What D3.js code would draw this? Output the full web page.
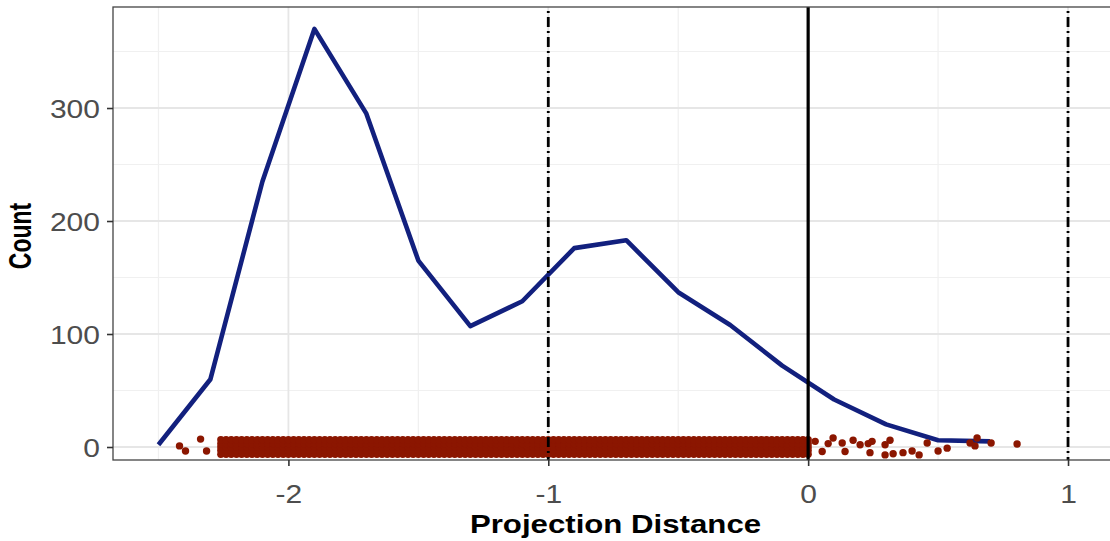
<!DOCTYPE html>
<html><head><meta charset="utf-8">
<script src="https://cdn.jsdelivr.net/npm/d3@7"></script>
<style>html,body{margin:0;padding:0;background:#fff;}svg{display:block;}</style>
</head><body><div id="chart"></div>
<script>
// ---- data ----
const polyX = [-2.5,-2.3,-2.1,-1.9,-1.7,-1.5,-1.3,-1.1,-0.9,-0.7,-0.5,-0.3,-0.1,0.1,0.3,0.5,0.7];
const polyCount = [2,60,235,370,295,165,107,129,176,183,137,108,72,42,20,6,5];
const xTicks = [-2,-1,0,1];
const yTicks = [0,100,200,300];
const vlineSolid = [0];
const vlineDotdash = [-1,1];
// dense jittered band of projection distances (x) drawn at several jitter rows (y)
const denseX = [-2.26,-2.24,-2.22,-2.20,-2.18,-2.16,-2.14,-2.12,-2.10,-2.08,-2.06,-2.04,-2.02,-2.00,-1.98,-1.96,-1.94,-1.92,-1.90,-1.88,-1.86,-1.84,-1.82,-1.80,-1.78,-1.76,-1.74,-1.72,-1.70,-1.68,-1.66,-1.64,-1.62,-1.60,-1.58,-1.56,-1.54,-1.52,-1.50,-1.48,-1.46,-1.44,-1.42,-1.40,-1.38,-1.36,-1.34,-1.32,-1.30,-1.28,-1.26,-1.24,-1.22,-1.20,-1.18,-1.16,-1.14,-1.12,-1.10,-1.08,-1.06,-1.04,-1.02,-1.00,-0.98,-0.96,-0.94,-0.92,-0.90,-0.88,-0.86,-0.84,-0.82,-0.80,-0.78,-0.76,-0.74,-0.72,-0.70,-0.68,-0.66,-0.64,-0.62,-0.60,-0.58,-0.56,-0.54,-0.52,-0.50,-0.48,-0.46,-0.44,-0.42,-0.40,-0.38,-0.36,-0.34,-0.32,-0.30,-0.28,-0.26,-0.24,-0.22,-0.20,-0.18,-0.16,-0.14,-0.12,-0.10,-0.08,-0.06,-0.04,-0.02,0.00];
const denseRows = [-6.5,-3,0,3,6.5];
// sparse (tail) jittered points
const sparseX = [-2.419,-2.396,-2.338,-2.315,0.027,0.054,0.077,0.096,0.131,0.142,0.173,0.200,0.231,0.246,0.238,0.296,0.315,0.296,0.327,0.365,0.400,0.427,0.458,0.500,0.535,0.623,0.650,0.642,0.704,0.804];
const sparseY = [1,-3.5,7,-3.5,5,-4,3,8,3.5,-4,6,2,3,5,-5,2,6,-7,-6,-5,-3.5,-7,3.5,-3.5,-1,3.5,8,1,3.5,2.7];

// ---- layout ----
const W = 1110, H = 541;
const m = {left:113, top:7, right:1113.5, bottom:460};
const sx = 1.2; // horizontal text stretch of the reference
const svg = d3.select('#chart').append('svg').attr('width',W).attr('height',H);
const x = d3.scaleLinear().domain([-2.675,1.175]).range([m.left,m.right]);
const y = d3.scaleLinear().domain([-11.5,389.4]).range([m.bottom,m.top]);

svg.append('clipPath').attr('id','pc').append('rect')
  .attr('x',m.left).attr('y',m.top).attr('width',m.right-m.left).attr('height',m.bottom-m.top);
const panel = svg.append('g').attr('clip-path','url(#pc)');

// grid
const xMinor = [-2.5,-1.5,-0.5,0.5];
const yMinor = [50,150,250,350];
panel.selectAll('.gxm').data(xMinor).join('line').attr('x1',d=>x(d)).attr('x2',d=>x(d))
  .attr('y1',m.top).attr('y2',m.bottom).attr('stroke','#f0f0f0').attr('stroke-width',1.2);
panel.selectAll('.gym').data(yMinor).join('line').attr('y1',d=>y(d)).attr('y2',d=>y(d))
  .attr('x1',m.left).attr('x2',m.right).attr('stroke','#f0f0f0').attr('stroke-width',1.2);
panel.selectAll('.gx').data(xTicks).join('line').attr('x1',d=>x(d)).attr('x2',d=>x(d))
  .attr('y1',m.top).attr('y2',m.bottom).attr('stroke','#e6e6e6').attr('stroke-width',1.8);
panel.selectAll('.gy').data(yTicks).join('line').attr('y1',d=>y(d)).attr('y2',d=>y(d))
  .attr('x1',m.left).attr('x2',m.right).attr('stroke','#e6e6e6').attr('stroke-width',1.8);

// frequency polygon
const line = d3.line().x((d,i)=>x(polyX[i])).y(d=>y(d));
panel.append('path').datum(polyCount).attr('d',line).attr('fill','none')
  .attr('stroke','#12207e').attr('stroke-width',4.6).attr('stroke-linejoin','round');

// points
const pts = [];
denseRows.forEach(r=>denseX.forEach(v=>pts.push([v,r])));
sparseX.forEach((v,i)=>pts.push([v,sparseY[i]]));
panel.selectAll('.pt').data(pts).join('circle').attr('cx',d=>x(d[0])).attr('cy',d=>y(d[1]))
  .attr('r',3.7).attr('fill','#8b1600');

// vertical reference lines
panel.selectAll('.vs').data(vlineSolid).join('line').attr('x1',d=>x(d)).attr('x2',d=>x(d))
  .attr('y1',m.top).attr('y2',m.bottom).attr('stroke','#000').attr('stroke-width',3.2);
panel.selectAll('.vd').data(vlineDotdash).join('line').attr('x1',d=>x(d)).attr('x2',d=>x(d))
  .attr('y1',m.top).attr('y2',m.bottom).attr('stroke','#000').attr('stroke-width',2.8)
  .attr('stroke-dasharray','10,4,2,4').attr('stroke-dashoffset',10);

// panel border
svg.append('rect').attr('x',m.left).attr('y',m.top).attr('width',m.right-m.left).attr('height',m.bottom-m.top)
  .attr('fill','none').attr('stroke','#444').attr('stroke-width',1.3);

// axes
const xAxis = svg.append('g').attr('transform',`translate(0,${m.bottom})`)
  .call(d3.axisBottom(x).tickValues(xTicks).tickSize(6).tickFormat(d3.format('d')));
const yAxis = svg.append('g').attr('transform',`translate(${m.left},0)`)
  .call(d3.axisLeft(y).tickValues(yTicks).tickSize(6).tickFormat(d3.format('d')));
[xAxis,yAxis].forEach(a=>{
  a.select('.domain').remove();
  a.selectAll('.tick line').attr('stroke','#333').attr('stroke-width',1.6);
  a.selectAll('.tick text').attr('fill','#4d4d4d').attr('font-family','Liberation Sans, Arial, sans-serif')
   .attr('font-size',25);
});
xAxis.selectAll('.tick text').attr('y',0).attr('dy',0)
  .attr('transform',`translate(0,43) scale(${sx},1)`).text(d=>d<0?'-'+Math.abs(d):d);
yAxis.selectAll('.tick text').attr('x',0).attr('dy','0.36em')
  .attr('transform',`translate(-13,0) scale(${sx},1)`);

// titles
svg.append('text').attr('transform',`translate(${(m.left+1108)/2+5},533) scale(${sx},1)`)
  .attr('text-anchor','middle').attr('font-family','Liberation Sans, Arial, sans-serif')
  .attr('font-weight','bold').attr('font-size',26).attr('fill','#000').text('Projection Distance');
svg.append('text').attr('transform',`translate(31,236) scale(1.35,1) rotate(-90)`)
  .attr('text-anchor','middle').attr('font-family','Liberation Sans, Arial, sans-serif')
  .attr('font-weight','bold').attr('font-size',23).attr('fill','#000').text('Count');
</script></body></html>
